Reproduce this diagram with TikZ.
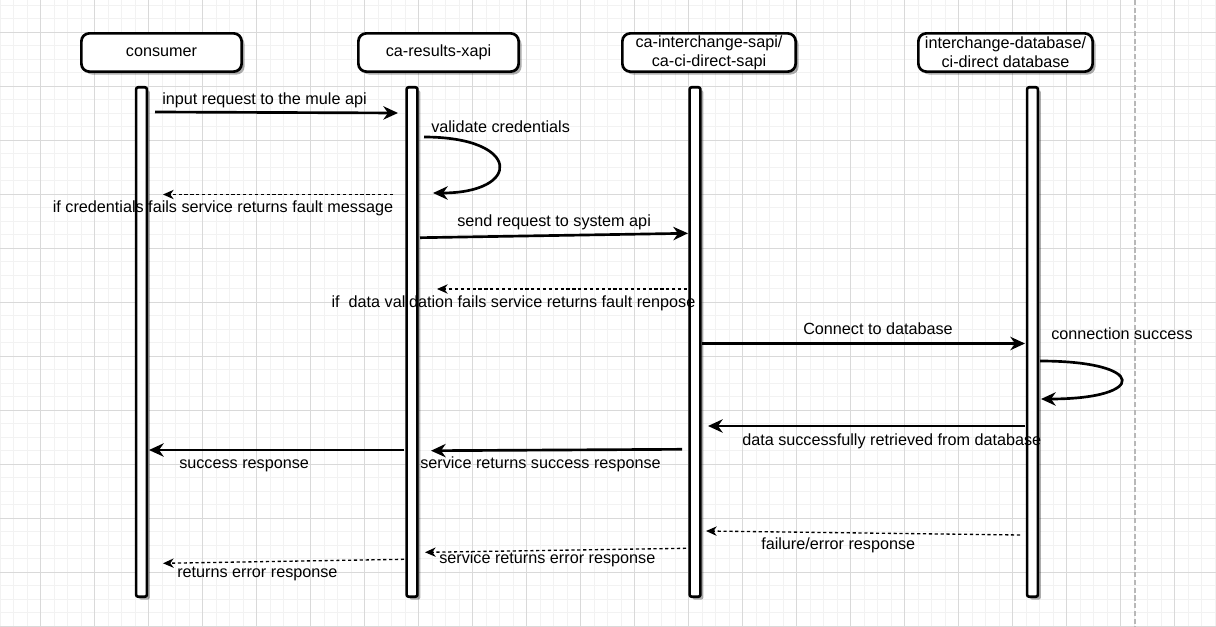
\documentclass[tikz,border=0pt]{standalone}
\usepackage{fontspec}
\setmainfont{Liberation Sans}
\usetikzlibrary{arrows.meta,shadows}
\begin{document}
\begin{tikzpicture}[x=0.75pt,y=-0.75pt,
  font=\fontsize{12.15pt}{14pt}\selectfont,
  minorgrid/.style={draw=black!5, line width=0.75pt},
  majorgrid/.style={draw=black!15, line width=0.75pt},
  myshadow/.style={drop shadow={shadow xshift=2.2pt,shadow yshift=-2.2pt,opacity=0.32,fill=black}},
  actor/.style={draw, line width=2pt, rounded corners=6pt, fill=white, minimum height=28.7pt, align=center, inner sep=0pt, myshadow},
  bar/.style={draw, line width=2pt, rounded corners=1.5pt, fill=white, minimum width=8.1pt, minimum height=382pt, inner sep=0pt, myshadow},
  msg/.style={line width=2pt, -{Stealth[length=11pt,width=10pt,inset=3.5pt]}},
  ret/.style={line width=1pt, dash pattern=on 2.4pt off 2pt, -{Stealth[length=8pt,width=7pt,inset=2.5pt]}},
  lbl/.style={inner sep=0pt, anchor=base west},
  lblc/.style={inner sep=0pt, anchor=base}
]
% background and grid
\fill[white] (0,0) rectangle (1216,627);
\useasboundingbox (0,0) rectangle (1216,627);
\foreach \i in {0,...,90} \draw[minorgrid] ({0.2+13.5*\i},0) -- ({0.2+13.5*\i},627);
\foreach \j in {0,...,46} \draw[minorgrid] (0,{5.3+13.5*\j}) -- (1216,{5.3+13.5*\j});
\foreach \i in {0,...,21} \draw[majorgrid] ({40.7+54*\i},0) -- ({40.7+54*\i},627);
\foreach \j in {0,...,11} \draw[majorgrid] (0,{32.3+54*\j}) -- (1216,{32.3+54*\j});
\draw[draw=black!28, line width=1.1pt, dash pattern=on 3.8pt off 2pt] (1135,0) -- (1135,627);

% actors
\node[actor, minimum width=120.2pt] (consumer) at (161.5,52.5) {consumer};
\node[actor, minimum width=120.2pt] (xapi) at (438.5,52.5) {ca-results-xapi};
\node[actor, minimum width=130pt] (sapi) at (709,52.5) {ca-interchange-sapi/\\ca-ci-direct-sapi};
\node[actor, minimum width=130.7pt] (db) at (1005.5,52.5) {interchange-database/\\ci-direct database};

% lifeline bars
\node[bar] (cbar) at (141.5,342) {};
\node[bar] (xbar) at (412,342) {};
\node[bar] (sbar) at (695,342) {};
\node[bar] (dbar) at (1032.5,342) {};

% message end points
\coordinate (m1s) at (155,112);    \coordinate (m1e) at (398,113);
\coordinate (m2s) at (424,137);    \coordinate (m2e) at (433,193);
\coordinate (m3s) at (393,194.5);  \coordinate (m3e) at (163,194.5);
\coordinate (m4s) at (420,237.7);  \coordinate (m4e) at (688,233.3);
\coordinate (m5s) at (687,289);    \coordinate (m5e) at (437,289);
\coordinate (m6s) at (702,343.5);  \coordinate (m6e) at (1025,343.5);
\coordinate (m7s) at (1040,361);   \coordinate (m7e) at (1041,399);
\coordinate (m8s) at (1025,426);   \coordinate (m8e) at (708,426);
\coordinate (m9s) at (682,449.3);  \coordinate (m9e) at (431,450.7);
\coordinate (m10s) at (404,450);   \coordinate (m10e) at (149,450);
\coordinate (m11s) at (1020,535);  \coordinate (m11e) at (706,531);
\coordinate (m12s) at (686,548.3); \coordinate (m12e) at (425,552.3);
\coordinate (m13s) at (404,559.3); \coordinate (m13e) at (163,563.3);

% messages
\draw[msg] (m1s) -- (m1e);
\draw[msg] (m2s) .. controls (522,137) and (522,193) .. (m2e);
\draw[ret] (m3s) -- (m3e);
\draw[msg] (m4s) -- (m4e);
\draw[ret] (m5s) -- (m5e);
\draw[msg] (m6s) -- (m6e);
\draw[msg] (m7s) .. controls (1148,361) and (1148,399) .. (m7e);
\draw[msg] (m8s) -- (m8e);
\draw[msg] (m9s) -- (m9e);
\draw[msg] (m10s) -- (m10e);
\draw[ret] (m11s) -- (m11e);
\draw[ret] (m12s) -- (m12e);
\draw[ret] (m13s) -- (m13e);

% labels
\node[lbl] (l1) at (162,105) {input request to the mule api};
\node[lbl] (l2) at (431,132.2) {validate credentials};
\node[lblc] (l3) at (223,212.8) {if credentials fails service returns fault message};
\node[lbl] (l4) at (457,226.2) {send request to system api};
\node[lblc] (l5) at (513.5,307.2) {if\ \ data validation fails service returns fault renpose};
\node[lblc] (l6) at (878,334.5) {Connect to database};
\node[lbl] (l7) at (1051,339.5) {connection success};
\node[lbl] (l8) at (742,445.5) {data successfully retrieved from database};
\node[lbl] (l9) at (420,468.8) {service returns success response};
\node[lbl] (l10) at (179,468.8) {success response};
\node[lbl] (l11) at (761,549.8) {failure/error response};
\node[lbl] (l12) at (439,563.8) {service returns error response};
\node[lbl] (l13) at (177,577.2) {returns error response};
\end{tikzpicture}
\end{document}
